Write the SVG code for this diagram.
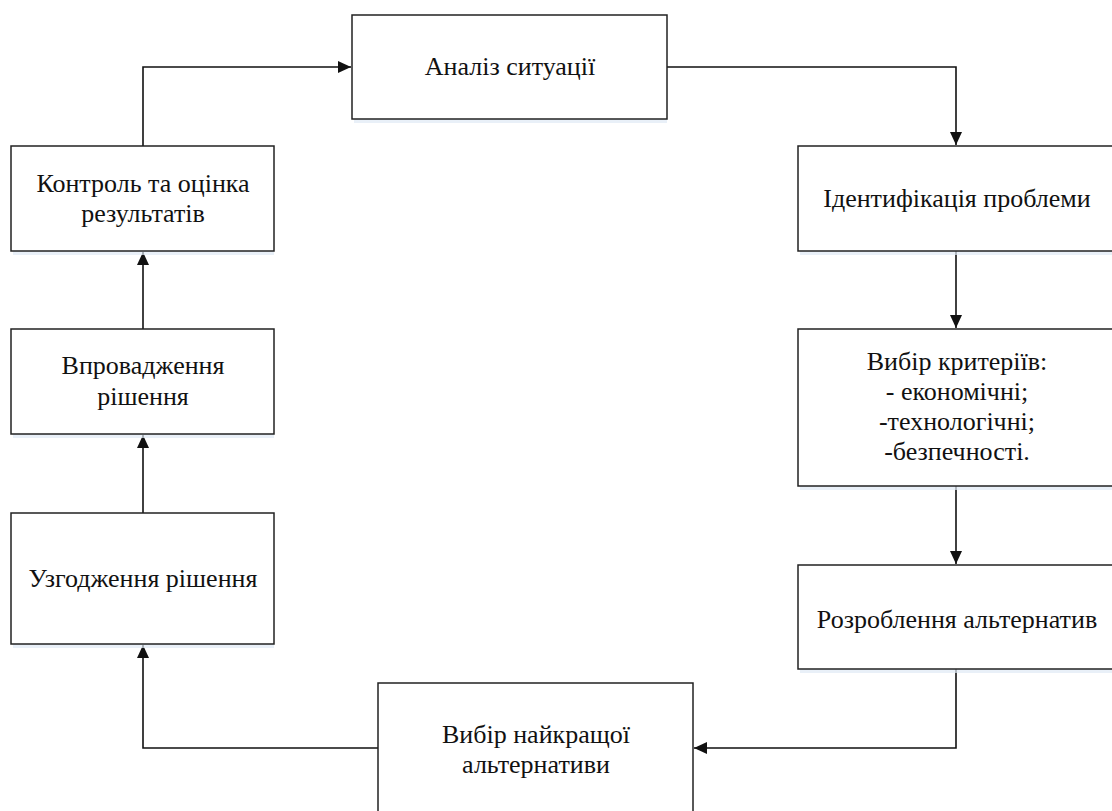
<svg xmlns="http://www.w3.org/2000/svg" width="1112" height="811" viewBox="0 0 1112 811">
<style>
.box{fill:#fff;stroke:#222;stroke-width:1.5}
.sh{fill:#dfe9f5;opacity:0.7}
.t{font-family:"Liberation Serif","Times New Roman",serif;font-size:26px;fill:#111;text-anchor:middle}
.c{fill:none;stroke:#111;stroke-width:1.6}
</style>
<defs>
<marker id="ah" markerWidth="13" markerHeight="12" refX="13" refY="6" orient="auto" markerUnits="userSpaceOnUse">
<path d="M0,0 L13,6 L0,12 Z" fill="#111"/>
</marker>
</defs>
<rect width="1112" height="811" fill="#fff"/>
<g id="connectors">
<path class="c" d="M143,146 V67 H351" marker-end="url(#ah)"/>
<path class="c" d="M667,67 H956 V145" marker-end="url(#ah)"/>
<path class="c" d="M956,251 V328" marker-end="url(#ah)"/>
<path class="c" d="M956,486 V564" marker-end="url(#ah)"/>
<path class="c" d="M956,669 V748 H694" marker-end="url(#ah)"/>
<path class="c" d="M378,748 H143 V645" marker-end="url(#ah)"/>
<path class="c" d="M143,513 V435" marker-end="url(#ah)"/>
<path class="c" d="M143,329 V252" marker-end="url(#ah)"/>
</g>
<g id="n1">
<rect class="sh" x="354" y="119" width="313" height="4"/>
<rect class="box" x="352" y="15" width="315" height="104"/>
<text class="t" x="510" y="75">Аналіз ситуації</text>
</g>
<g id="n2">
<rect class="sh" x="800" y="251" width="320" height="4"/>
<rect class="box" x="798" y="146" width="320" height="105"/>
<text class="t" x="957" y="207">Ідентифікація проблеми</text>
</g>
<g id="n3">
<rect class="sh" x="800" y="486" width="320" height="4"/>
<rect class="box" x="798" y="329" width="320" height="157"/>
<text class="t" x="957" y="370">Вибір критеріїв:</text>
<text class="t" x="957" y="400">- економічні;</text>
<text class="t" x="957" y="430">-технологічні;</text>
<text class="t" x="957" y="460">-безпечності.</text>
</g>
<g id="n4">
<rect class="sh" x="800" y="669" width="320" height="4"/>
<rect class="box" x="798" y="565" width="320" height="104"/>
<text class="t" x="957" y="628">Розроблення альтернатив</text>
</g>
<g id="n5">
<rect class="box" x="378" y="683" width="315" height="140"/>
<text class="t" x="536" y="743">Вибір найкращої</text>
<text class="t" x="536" y="773">альтернативи</text>
</g>
<g id="n6">
<rect class="sh" x="13" y="644" width="261" height="4"/>
<rect class="box" x="11" y="513" width="263" height="131"/>
<text class="t" x="143" y="587">Узгодження рішення</text>
</g>
<g id="n7">
<rect class="sh" x="13" y="434" width="261" height="4"/>
<rect class="box" x="11" y="329" width="263" height="105"/>
<text class="t" x="143" y="374">Впровадження</text>
<text class="t" x="143" y="405">рішення</text>
</g>
<g id="n8">
<rect class="sh" x="13" y="251" width="261" height="4"/>
<rect class="box" x="11" y="146" width="263" height="105"/>
<text class="t" x="143" y="192">Контроль та оцінка</text>
<text class="t" x="143" y="222">результатів</text>
</g>
</svg>
